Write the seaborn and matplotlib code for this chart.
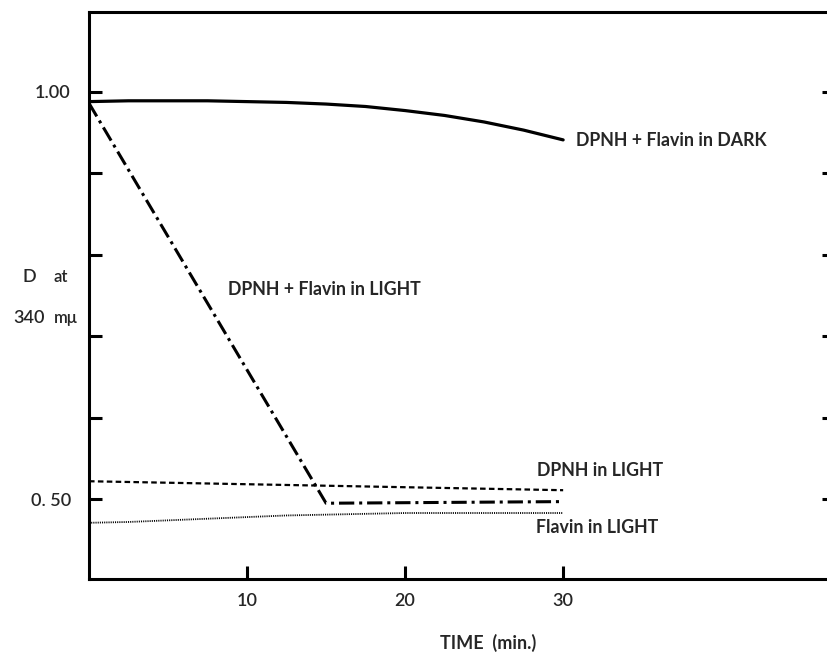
import numpy as np
import pandas as pd
import matplotlib
matplotlib.use('Agg')
import matplotlib.pyplot as plt
import seaborn as sns

# values (time in min, optical density at 340 mu)
dark_t = [0, 2.5, 5, 7.5, 10, 12.5, 15, 17.5, 20, 22.5, 25, 27.5, 30]
dark_d = [0.988, 0.989, 0.989, 0.989, 0.988, 0.987, 0.985, 0.982,
          0.977, 0.971, 0.963, 0.953, 0.941]

light_t = [0, 15, 30]
light_d = [0.986, 0.495, 0.497]

dpnh_t = [0, 30]
dpnh_d = [0.522, 0.511]

flavin_t = [0, 2.5, 5, 7.5, 10, 12.5, 15, 20, 30]
flavin_d = [0.471, 0.472, 0.474, 0.476, 0.478, 0.480, 0.481, 0.483, 0.483]

series_labels = ['DPNH + Flavin in DARK', 'DPNH + Flavin in LIGHT',
                 'DPNH in LIGHT', 'Flavin in LIGHT']
x_ticks = [10, 20, 30]
y_ticks = [0.5, 0.6, 0.7, 0.8, 0.9, 1.0]
y_tick_labels = ['0. 50', '', '', '', '', '1.00']

sns.set_style('ticks')
plt.rcParams['font.family'] = ['Lato', 'DejaVu Sans']

W, H = 827, 655
fig = plt.figure(figsize=(W / 100, H / 100), dpi=100)
# axes box: left spine at x=89, top 12, bottom 579, right spine just off the image
ax = fig.add_axes([89 / W, (H - 579) / H, (835 - 89) / W, (579 - 12) / H])

sns.lineplot(x=dark_t, y=dark_d, ax=ax, color='black', linewidth=2.3)
sns.lineplot(x=light_t, y=light_d, ax=ax, color='black', linewidth=2.2,
             linestyle=(0, (5, 1.6, 1, 1.6)))
sns.lineplot(x=dpnh_t, y=dpnh_d, ax=ax, color='black', linewidth=1.6,
             linestyle=(0, (2.5, 1.5)))
sns.lineplot(x=flavin_t, y=flavin_d, ax=ax, color='black', linewidth=1.3,
             linestyle=(0, (0.6, 0.6)))

ax.set_xlim(0, 47.2)
ax.set_ylim(0.402, 1.098)

ax.set_xticks(x_ticks)
ax.set_xticklabels([str(t) for t in x_ticks], fontsize=13, fontweight='semibold')
ax.set_yticks(y_ticks)
ax.set_yticklabels(y_tick_labels, fontsize=13, fontweight='semibold')
ax.tick_params(axis='both', direction='in', length=9.5, width=2.2, color='black')
ax.tick_params(axis='y', right=True, pad=13)
ax.tick_params(axis='x', pad=10)

for s in ax.spines.values():
    s.set_linewidth(2.2)
    s.set_color('black')

ax.set_xlabel('')
ax.set_ylabel('')

# curve labels
lab_kw = dict(fontsize=12.8, fontweight='bold', va='center', ha='left')
ax.text(30.8, 0.94, series_labels[0], **lab_kw)
ax.text(8.8, 0.757, series_labels[1], **lab_kw)
ax.text(28.35, 0.535, series_labels[2], **lab_kw)
ax.text(28.3, 0.465, series_labels[3], **lab_kw)

# axis titles, placed in pixel positions of the figure
def px(x, y):
    return x / W, 1 - y / H

fig.text(*px(488, 643), 'TIME  (min.)', fontsize=13, fontweight='bold',
         ha='center', va='center')
fig.text(*px(29, 277), 'D', fontsize=13, fontweight='semibold', ha='center', va='center')
fig.text(*px(53, 277), 'at', fontsize=12, fontweight='semibold', ha='left', va='center')
fig.text(*px(29, 318), '340', fontsize=13, fontweight='semibold', ha='center', va='center')
fig.text(*px(54, 318), 'm\u03bc', fontsize=12, fontweight='semibold', ha='left', va='center')

fig.savefig('out.png', dpi=100, facecolor='white')
